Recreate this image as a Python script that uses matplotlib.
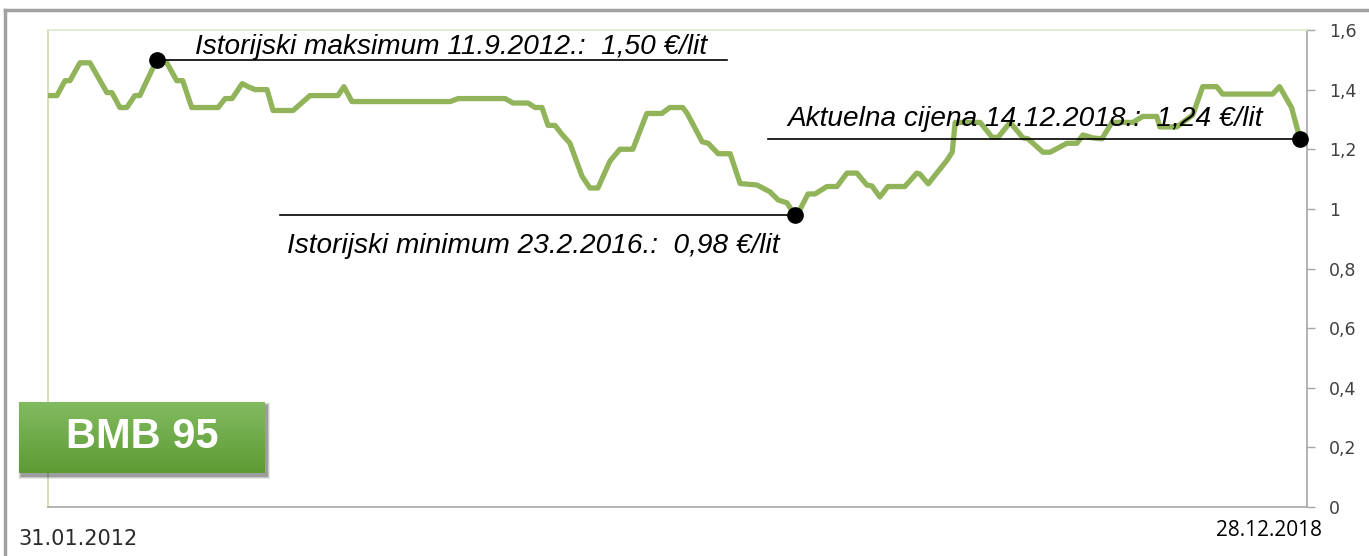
import matplotlib
matplotlib.use("Agg")
import matplotlib.pyplot as plt
from matplotlib.lines import Line2D
from matplotlib.patches import Rectangle
from matplotlib.ticker import FuncFormatter
import numpy as np
import pandas as pd

# ---------------- data ----------------
dates = [
    "2012-01-31", "2012-02-18", "2012-03-05", "2012-03-15", "2012-04-04", "2012-04-24",
    "2012-05-28", "2012-06-07", "2012-06-23", "2012-07-07", "2012-07-23", "2012-08-02",
    "2012-09-05", "2012-09-25", "2012-10-15", "2012-10-27", "2012-11-14", "2013-01-06",
    "2013-01-20", "2013-02-03", "2013-02-23", "2013-03-07", "2013-03-21", "2013-04-14",
    "2013-04-26", "2013-06-05", "2013-07-09", "2013-09-03", "2013-09-15", "2013-10-01",
    "2014-04-16", "2014-05-02", "2014-08-04", "2014-08-20", "2014-09-19", "2014-10-03",
    "2014-10-17", "2014-10-29", "2014-11-12", "2014-11-26", "2014-12-12", "2015-01-05",
    "2015-01-21", "2015-02-06", "2015-03-02", "2015-03-22", "2015-04-17", "2015-05-15",
    "2015-06-14", "2015-06-30", "2015-07-26", "2015-08-04", "2015-09-03", "2015-09-15",
    "2015-10-05", "2015-10-29", "2015-11-18", "2015-12-22", "2016-01-17", "2016-02-02",
    "2016-02-20", "2016-03-06", "2016-03-13", "2016-04-02", "2016-04-16", "2016-05-10",
    "2016-05-30", "2016-06-19", "2016-07-09", "2016-07-29", "2016-08-08", "2016-08-24",
    "2016-09-09", "2016-10-13", "2016-11-06", "2016-11-12", "2016-11-29", "2017-01-06",
    "2017-01-16", "2017-01-22", "2017-03-13", "2017-04-06", "2017-04-18", "2017-05-12",
    "2017-06-07", "2017-06-17", "2017-07-17", "2017-07-31", "2017-09-03", "2017-09-23",
    "2017-10-05", "2017-10-25", "2017-11-12", "2017-12-02", "2018-01-13", "2018-02-02",
    "2018-03-02", "2018-03-08", "2018-04-11", "2018-05-13", "2018-06-02", "2018-06-30",
    "2018-07-12", "2018-10-20", "2018-11-03", "2018-11-27", "2018-12-14",
]
prices = [
    1.38, 1.38, 1.43, 1.43, 1.49, 1.49,
    1.39, 1.39, 1.34, 1.34, 1.38, 1.38,
    1.50, 1.49, 1.43, 1.43, 1.34, 1.34,
    1.37, 1.37, 1.42, 1.41, 1.40, 1.40,
    1.33, 1.33, 1.38, 1.38, 1.41, 1.36,
    1.36, 1.37, 1.37, 1.355, 1.355, 1.34,
    1.34, 1.28, 1.28, 1.25, 1.22, 1.11,
    1.07, 1.07, 1.16, 1.20, 1.20, 1.32,
    1.32, 1.34, 1.34, 1.32, 1.225, 1.22,
    1.185, 1.185, 1.085, 1.08, 1.057, 1.03,
    1.02, 0.98, 0.985, 1.05, 1.05, 1.075,
    1.075, 1.12, 1.12, 1.08, 1.077, 1.04,
    1.075, 1.075, 1.12, 1.117, 1.084, 1.164,
    1.19, 1.29, 1.29, 1.24, 1.24, 1.29,
    1.238, 1.235, 1.19, 1.19, 1.22, 1.22,
    1.248, 1.238, 1.235, 1.29, 1.29, 1.31,
    1.31, 1.275, 1.275, 1.315, 1.41, 1.41,
    1.385, 1.385, 1.41, 1.34, 1.235,
]
y_ticks = [0, 0.2, 0.4, 0.6, 0.8, 1.0, 1.2, 1.4, 1.6]
start_label = "31.01.2012"
end_label = "28.12.2018"
x_end = "2018-12-28"
series_name = "BMB 95"

max_text = "Istorijski maksimum 11.9.2012.:  1,50 €/lit"
min_text = "Istorijski minimum 23.2.2016.:  0,98 €/lit"
cur_text = "Aktuelna cijena 14.12.2018.:  1,24 €/lit"

# ---------------- figure ----------------
W, H = 1369, 556
fig = plt.figure(figsize=(W / 100, H / 100), dpi=100)
fig.patch.set_facecolor("white")

ax = fig.add_axes([48 / W, 1 - 507 / H, (1307 - 48) / W, (507 - 30) / H])
x = pd.to_datetime(dates)
y = np.array(prices)

ax.plot(x, y, color="#91b35a", lw=3.8, solid_joinstyle="round", zorder=3)

xmin = pd.Timestamp(dates[0])
xmax = pd.Timestamp(x_end)
ax.set_xlim(xmin, xmax)
ax.set_ylim(y_ticks[0], y_ticks[-1])

def frac_date(f):
    return xmin + (xmax - xmin) * f

# spines / axis styling
ax.yaxis.tick_right()
ax.set_yticks(y_ticks)
ax.yaxis.set_major_formatter(FuncFormatter(lambda v, p: ("%g" % round(v, 1)).replace(".", ",")))
ax.tick_params(axis="y", direction="out", length=6, width=1, color="#a6a6a6",
               labelsize=12.5, labelcolor="#404040", pad=10)
for lab in ax.get_yticklabels():
    lab.set_family("DejaVu Sans")
ax.set_xticks([])
ax.spines["left"].set_color("#c9dcaa")
ax.spines["top"].set_color("#dde8cc")
ax.spines["right"].set_color("#a6a6a6")
ax.spines["bottom"].set_color("#a6a6a6")
for s in ax.spines.values():
    s.set_linewidth(1.2)

# annotated points
i_max = int(np.argmax(y))
i_min = int(np.argmin(y))
i_cur = len(y) - 1
italic = dict(fontsize=20.2, style="italic", family="Liberation Sans", color="black")

# max
ax.plot([x[i_max], frac_date(0.539)], [y[i_max], y[i_max]], color="black", lw=1.2, zorder=4)
ax.plot(x[i_max], y[i_max], "o", color="black", ms=11, zorder=5)
ax.text(0.1168, 1.518, max_text, transform=ax.get_yaxis_transform(), va="baseline", ha="left", **italic)

# min
ax.plot([frac_date(0.184), x[i_min]], [y[i_min], y[i_min]], color="black", lw=1.2, zorder=4)
ax.plot(x[i_min], y[i_min], "o", color="black", ms=11, zorder=5)
ax.text(0.19, 0.853, min_text, transform=ax.get_yaxis_transform(), va="baseline", ha="left", **italic)

# current
ax.plot([frac_date(0.572), x[i_cur]], [y[i_cur], y[i_cur]], color="black", lw=1.2, zorder=4)
ax.plot(x[i_cur], y[i_cur], "o", color="black", ms=11, zorder=5, clip_on=False)
ax.text(0.587, 1.277, cur_text, transform=ax.get_yaxis_transform(), va="baseline", ha="left", **italic)

# outer frame (gray lines)
fig.add_artist(Line2D([5 / W, 5 / W], [0, 1 - 10 / H], transform=fig.transFigure, color="#a0a0a0", lw=2.5))
fig.add_artist(Line2D([5 / W, 1], [1 - 10 / H, 1 - 10 / H], transform=fig.transFigure, color="#a0a0a0", lw=2.5))

# corner date labels
fig.text(18 / W, 1 - 539 / H, start_label, fontsize=15, family="DejaVu Sans", color="#2a2a2a", va="center", ha="left")
fig.text(1322 / W, 1 - 531 / H, end_label, fontsize=15, family="Open Sans", color="black", va="center", ha="right")

# BMB 95 badge with gradient + shadow
bx0, by0, bx1, by1 = 19, 402, 265, 473
for k, a in zip(range(6, 0, -1), [0.04, 0.05, 0.06, 0.08, 0.10, 0.12]):
    fig.add_artist(Rectangle(((bx0 + 2 - k / 2) / W, 1 - (by1 + 3 + k / 2) / H),
                             (bx1 - bx0 + k) / W, (by1 - by0 + k) / H,
                             transform=fig.transFigure, facecolor="black", alpha=a,
                             edgecolor="none", zorder=0.5))
bax = fig.add_axes([bx0 / W, 1 - by1 / H, (bx1 - bx0) / W, (by1 - by0) / H])
bax.set_zorder(3)
grad = np.linspace(0, 1, 100).reshape(-1, 1)
top = np.array([0x82, 0xbb, 0x60]) / 255
bot = np.array([0x5c, 0x9b, 0x34]) / 255
img = top[None, None, :] * (1 - grad[:, :, None]) + bot[None, None, :] * grad[:, :, None]
bax.imshow(img, aspect="auto", extent=[0, 1, 0, 1], origin="upper")
bax.set_axis_off()
bax.text(0.5, 0.5, series_name, transform=bax.transAxes, ha="center", va="center",
         fontsize=30, fontweight="bold", family="Liberation Sans", color="white")

fig.savefig("out.png", dpi=100, facecolor="white")
